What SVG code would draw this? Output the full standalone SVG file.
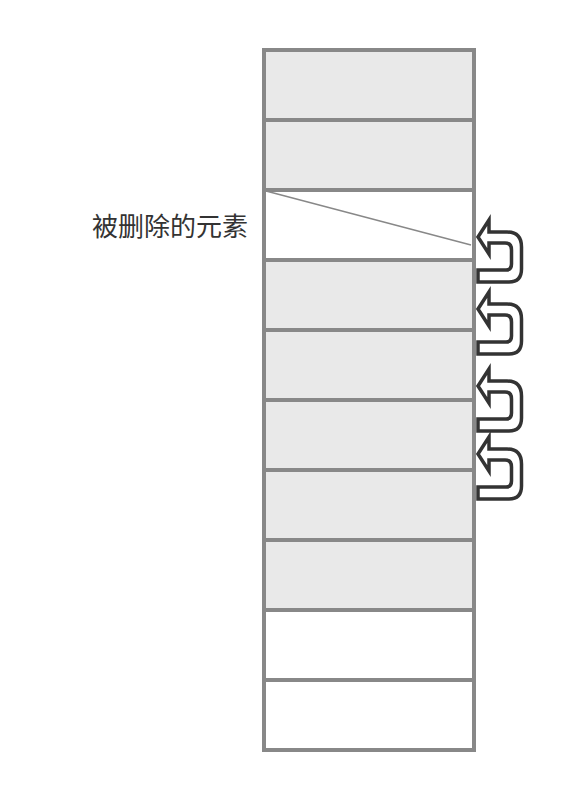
<svg xmlns="http://www.w3.org/2000/svg" width="570" height="800" viewBox="0 0 570 800">
<style>
.cell{stroke:#888;stroke-width:4}
.g{fill:#e9e9e9}
.w{fill:#fff}
.arr{fill:#fff;stroke:#333;stroke-width:3.5;stroke-linejoin:miter}
.lbl{font-family:"Noto Sans CJK SC","Noto Sans",sans-serif;font-size:26px;fill:#333}
</style>
<defs>
<path id="uturn" class="arr" d="M0,17 L11,0 L11,12 L29,12 Q43.5,12 43.5,27 L43.5,49 Q43.5,62 31,62 L0,62 L0,50 L28,50 Q33.5,50 33.5,44 L33.5,30 Q33.5,23 27,23 L11,23 L11,34 Z"/>
</defs>
<rect width="570" height="800" fill="#fff"/>
<g id="cells">
<rect id="c1" class="cell g" x="264" y="50" width="210" height="70"/>
<rect id="c2" class="cell g" x="264" y="120" width="210" height="70"/>
<g id="c3"><rect class="cell w" x="264" y="190" width="210" height="70"/></g>
<rect id="c4" class="cell g" x="264" y="260" width="210" height="70"/>
<rect id="c5" class="cell g" x="264" y="330" width="210" height="70"/>
<rect id="c6" class="cell g" x="264" y="400" width="210" height="70"/>
<rect id="c7" class="cell g" x="264" y="470" width="210" height="70"/>
<rect id="c8" class="cell g" x="264" y="540" width="210" height="70"/>
<rect id="c9" class="cell w" x="264" y="610" width="210" height="70"/>
<rect id="c10" class="cell w" x="264" y="680" width="210" height="70"/>
</g>
<g id="connectors">
<line x1="266" y1="191" x2="471" y2="245" stroke="#888" stroke-width="1.5"/>
<use href="#uturn" x="478" y="220"/>
<use href="#uturn" x="478" y="292"/>
<use href="#uturn" x="478" y="369"/>
<use href="#uturn" x="478" y="437"/>
</g>
<g id="label">
<text class="lbl" x="92" y="236">被删除的元素</text>
</g>
</svg>
